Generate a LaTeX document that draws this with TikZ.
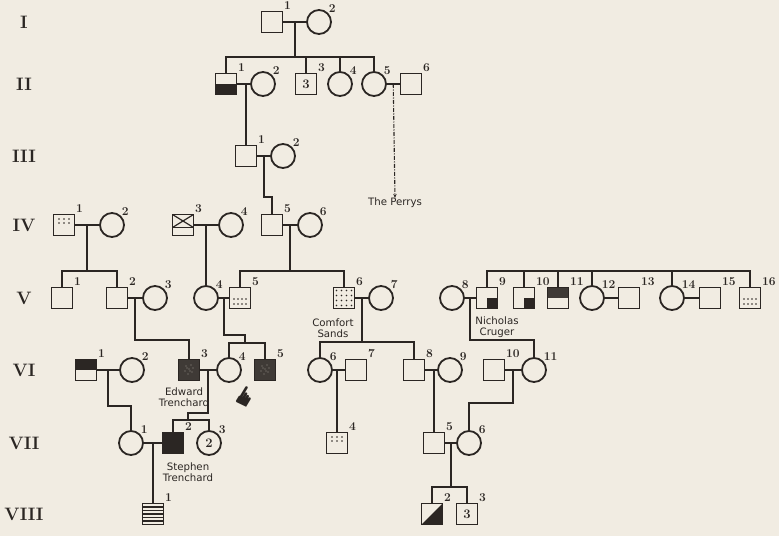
\documentclass[tikz,border=0pt]{standalone}
\usepackage{fontspec}
\newfontfamily\labelfont{DejaVu Sans}
\usetikzlibrary{arrows.meta,calc}
\definecolor{paper}{HTML}{F1ECE2}
\definecolor{ink}{HTML}{2B2623}
\tikzset{
  mal/.style={rectangle, draw=ink, fill=paper, line width=1.8pt, minimum size=21pt,
              inner sep=0pt, text=ink, font=\fontsize{13}{13}\selectfont\bfseries},
  fem/.style={circle, draw=ink, fill=paper, line width=1.8pt, minimum size=24pt,
              inner sep=0pt, text=ink, font=\fontsize{13}{13}\selectfont\bfseries, label distance=2.5pt},
  num/.style={font=\fontsize{12}{12}\selectfont\bfseries, text=ink, inner sep=0.5pt},
  idx/.style={label={[num]45:#1}},
  genlbl/.style={font=\fontsize{18}{18}\selectfont\bfseries, text=ink, inner sep=0pt},
  namelbl/.style={font=\labelfont\fontsize{10.2}{10.5}\selectfont, text=ink, align=center, inner sep=0pt},
  link/.style={draw=ink, line width=1.8pt},
  perry/.style={draw=ink, line width=1.1pt, dash pattern=on 4pt off 1.5pt on 1pt off 1.5pt,
                -{Stealth[length=4pt, width=3.5pt]}},
  lowerhalf/.style={path picture={\fill[ink] (path picture bounding box.west) rectangle (path picture bounding box.south east);}},
  upperhalf/.style={path picture={\fill[#1] (path picture bounding box.north west) rectangle (path picture bounding box.east);}},
  upperhalf/.default=ink,
  quarter/.style={path picture={\fill[ink] (path picture bounding box.center) rectangle (path picture bounding box.south east);}},
  halfdiag/.style={path picture={\fill[ink] (path picture bounding box.south west) -- (path picture bounding box.south east)
                   -- (path picture bounding box.north east) -- cycle;}},
  crossed/.style={path picture={
      \coordinate (pc) at (path picture bounding box.center);
      \draw[ink, line width=1.2pt] ($(pc)+(-10.5,2.5)$) -- ($(pc)+(10.5,2.5)$);
      \draw[ink, line width=1.2pt] ($(pc)+(-10.5,-10.5)$) -- ($(pc)+(10.5,2.5)$);
      \draw[ink, line width=1.2pt] ($(pc)+(10.5,-10.5)$) -- ($(pc)+(-10.5,2.5)$);}},
  dotstop/.style={path picture={\foreach \dx in {-5,0,5} \foreach \dy in {-6,-2}
      \fill[ink] ($(path picture bounding box.center)+(\dx,\dy)$) circle (0.9pt);}},
  dotsbot/.style={path picture={\foreach \dx in {-6,-2,2,6} \foreach \dy in {1,6}
      \fill[ink] ($(path picture bounding box.center)+(\dx,\dy)$) circle (0.9pt);}},
  dotsdense/.style={path picture={\foreach \dx in {-7.5,-2.5,2.5,7.5} \foreach \dy in {-7.5,-2.5,2.5,7.5}
      \fill[ink] ($(path picture bounding box.center)+(\dx,\dy)$) circle (0.9pt);}},
  stripes/.style={path picture={\foreach \dy in {-7,-3.5,0,3.5,7}
      \draw[ink, line width=1.1pt] ($(path picture bounding box.center)+(-11,\dy)$) -- ++(22,0);}},
  darkfill/.style={fill=ink!90!paper, path picture={\foreach \dx/\dy in {-3/-4,0/-1,2/-5,-4/1,3/2,-1/4,4/-2,1/1,-2/-2}
      \fill[paper!55!ink] ($(path picture bounding box.center)+(\dx,\dy)$) circle (0.7pt);}},
}
\begin{document}
\begin{tikzpicture}[x=1pt, y=-1pt]
\fill[paper] (0,0) rectangle (779,536);
\useasboundingbox (0,0) rectangle (779,536);

\foreach \g/\y in {I/22, II/84, III/156, IV/225, V/298, VI/370, VII/443, VIII/514}
  \node[genlbl] (gen\g) at (24,\y) {\g};

% I
\node[mal, idx=1] (I1) at (272,22) {};
\node[fem, idx=2] (I2) at (319,22) {};
% II
\node[mal, idx=1, lowerhalf] (II1) at (226,84) {};
\node[fem, idx=2] (II2) at (263,84) {};
\node[mal, idx=3] (II3) at (306,84) {3};
\node[fem, idx=4] (II4) at (340,84) {};
\node[fem, idx=5] (II5) at (374,84) {};
\node[mal, idx=6] (II6) at (411,84) {};
\node[namelbl] (perrys) at (395,203) {The Perrys};
% III
\node[mal, idx=1] (III1) at (246,156) {};
\node[fem, idx=2] (III2) at (283,156) {};
% IV
\node[mal, idx=1, dotstop] (IV1) at (64,225) {};
\node[fem, idx=2] (IV2) at (112,225) {};
\node[mal, idx=3, crossed] (IV3) at (183,225) {};
\node[fem, idx=4] (IV4) at (231,225) {};
\node[mal, idx=5] (IV5) at (272,225) {};
\node[fem, idx=6] (IV6) at (310,225) {};
% V
\node[mal, idx=1] (V1) at (62,298) {};
\node[mal, idx=2] (V2) at (117,298) {};
\node[fem, idx=3] (V3) at (155,298) {};
\node[fem, idx=4] (V4) at (206,298) {};
\node[mal, idx=5, dotsbot] (V5) at (240,298) {};
\node[mal, idx=6, dotsdense] (V6) at (344,298) {};
\node[fem, idx=7] (V7) at (381,298) {};
\node[fem, idx=8] (V8) at (452,298) {};
\node[mal, idx=9, quarter] (V9) at (487,298) {};
\node[mal, idx=10, quarter] (V10) at (524,298) {};
\node[mal, idx=11, upperhalf=ink!90!paper] (V11) at (558,298) {};
\node[fem, idx=12] (V12) at (592,298) {};
\node[mal, idx=13] (V13) at (629,298) {};
\node[fem, idx=14] (V14) at (672,298) {};
\node[mal, idx=15] (V15) at (710,298) {};
\node[mal, idx=16, dotsbot] (V16) at (750,298) {};
\node[namelbl] (sands) at (333,328) {Comfort\\Sands};
\node[namelbl] (cruger) at (497,327) {Nicholas\\Cruger};
% VI
\node[mal, idx=1, upperhalf] (VI1) at (86,370) {};
\node[fem, idx=2] (VI2) at (132,370) {};
\node[mal, idx=3, darkfill] (VI3) at (189,370) {};
\node[fem, idx=4] (VI4) at (229,370) {};
\node[mal, idx=5, darkfill] (VI5) at (265,370) {};
\node[fem, idx=6] (VI6) at (320,370) {};
\node[mal, idx=7] (VI7) at (356,370) {};
\node[mal, idx=8] (VI8) at (414,370) {};
\node[fem, idx=9] (VI9) at (450,370) {};
\node[mal, idx=10] (VI10) at (494,370) {};
\node[fem, idx=11] (VI11) at (534,370) {};
\node[namelbl] (edward) at (184,397) {Edward\\Trenchard};
\node[font=\labelfont\fontsize{26}{26}\selectfont, text=ink, rotate=59, inner sep=0pt] (hand) at (247,398) {☛};
% VII
\node[fem, idx=1] (VII1) at (131,443) {};
\node[mal, idx=2, fill=ink] (VII2) at (173,443) {};
\node[fem, idx=3] (VII3) at (209,443) {2};
\node[mal, idx=4, dotstop] (VII4) at (337,443) {};
\node[mal, idx=5] (VII5) at (434,443) {};
\node[fem, idx=6] (VII6) at (469,443) {};
\node[namelbl] (stephen) at (188,472) {Stephen\\Trenchard};
% VIII
\node[mal, idx=1, stripes] (VIII1) at (153,514) {};
\node[mal, idx=2, halfdiag] (VIII2) at (432,514) {};
\node[mal, idx=3] (VIII3) at (467,514) {3};

% marriages
\foreach \a/\b in {I1/I2, II1/II2, II5/II6, III1/III2, IV1/IV2, IV3/IV4, IV5/IV6, V2/V3, V4/V5,
                   V6/V7, V8/V9, V12/V13, V14/V15, VI1/VI2, VI3/VI4, VI6/VI7, VI8/VI9, VI10/VI11,
                   VII1/VII2, VII5/VII6}
  {\draw[link] (\a) -- (\b);
   \coordinate (m\a) at ($(\a.east)!0.5!(\b.west)$);}

% descent
\draw[link] (mI1) -- ++(0,35) coordinate (sI);
\draw[link] (II1.north) |- (sI) -| (II5.north);
\foreach \k in {II3,II4} \draw[link] (\k.north) -- (\k.north |- sI);
\draw[perry] (mII5) -- (perrys.north);
\draw[link] (III1.north) -- (III1.north |- mII1);
\draw[link] (mIII1) -- ++(0,41) -| (IV5.north);
\draw[link] (mIV1) -- ++(0,46) coordinate (sIV1);
\draw[link] (V1.north) |- (sIV1) -| (V2.north);
\draw[link] (V4.north) -- (V4.north |- mIV3);
\draw[link] (mIV5) -- ++(0,46) coordinate (sIV5);
\draw[link] (V5.north) |- (sIV5) -| (V6.north);
\draw[link] (V9.north) -- (V9.north |- 0,271) -| (V16.north);
\foreach \k in {V10,V11,V12,V14} \draw[link] (\k.north) -- (\k.north |- 0,271);
\draw[link] (mV2) -- ++(0,42) -| (VI3.north);
\draw[link] (mV4) -- ++(0,37) -- ++(21,0) -- ++(0,8) coordinate (sV4);
\draw[link] (VI4.north) |- (sV4) -| (VI5.north);
\draw[link] (mV6) -- ++(0,44) coordinate (sV6);
\draw[link] (VI6.north) |- (sV6) -| (VI8.north);
\draw[link] (mV8) -- ++(0,42) -| (VI11.north);
\draw[link] (mVI1) -- ++(0,36) -| (VII1.north);
\draw[link] (mVI3) -- ++(0,43) -- ++(-20,0) -- ++(0,7) coordinate (sVI3);
\draw[link] (VII2.north) |- (sVI3) -| (VII3.north);
\draw[link] (VII4.north) -- (VII4.north |- mVI6);
\draw[link] (VII5.north) -- (VII5.north |- mVI8);
\draw[link] (mVI10) -- ++(0,33) -| (VII6.north);
\draw[link] (VIII1.north) -- (VIII1.north |- mVII1);
\draw[link] (mVII5) -- ++(0,44) coordinate (sVII5);
\draw[link] (VIII2.north) |- (sVII5) -| (VIII3.north);
\end{tikzpicture}
\end{document}
